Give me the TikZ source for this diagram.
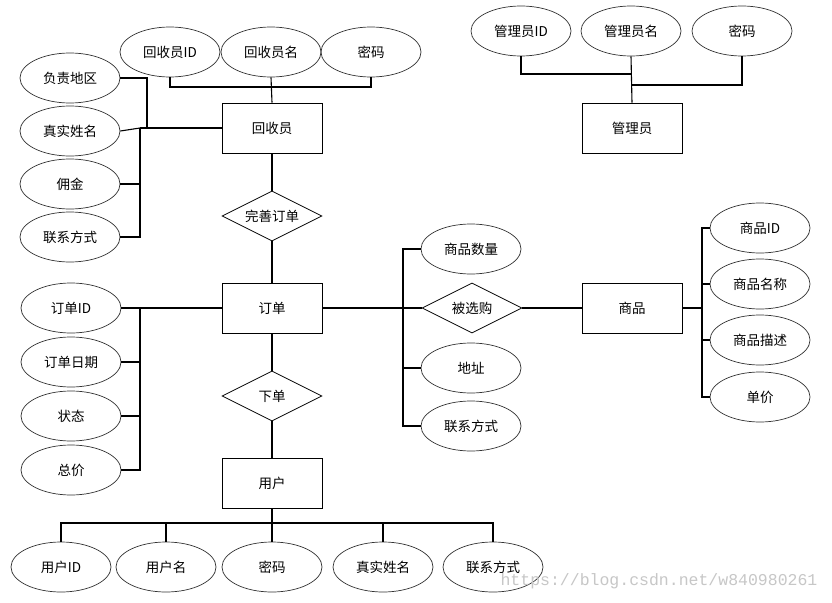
\documentclass[tikz,border=0pt]{standalone}
\usepackage{fontspec}
\newfontfamily\cjk{Noto Sans CJK SC}
\newfontfamily\wmfont{Liberation Mono}
\usetikzlibrary{shapes.geometric}
\tikzset{
  every node/.style={font=\cjk\fontsize{13.5}{16}\selectfont, inner sep=0pt},
  entity/.style={draw, line width=0.9pt, minimum width=100pt, minimum height=50pt},
  attr/.style={draw, ellipse, line width=0.7pt, draw=black!80, minimum width=100pt, minimum height=50pt},
  rel/.style={draw, diamond, line width=0.8pt, minimum width=100pt, minimum height=50pt},
  conn/.style={line width=1.1pt},
  thickconn/.style={line width=2pt},
}
\newcommand{\zw}[1]{\makebox[0pt]{#1}}
\begin{document}
\begin{tikzpicture}[x=1pt,y=-1pt]
\useasboundingbox[fill=white] (0,0) rectangle (832,602);
% entities
\node[entity] (hsy) at (272,128) {回收员};
\node[entity] (gly) at (632,128) {管理员};
\node[entity] (dd) at (272,308) {订单};
\node[entity] (sp) at (632,308) {商品};
\node[entity] (yh) at (272,483) {用户};
% relations
\node[rel] (wsdd) at (272,216) {\zw{完善订单}};
\node[rel] (xd) at (272,396) {\zw{下单}};
\node[rel] (bxg) at (472,308) {\zw{被选购}};
% attributes
\node[attr] (h1) at (170,52) {回收员ID};
\node[attr] (h2) at (271,52) {回收员名};
\node[attr] (h3) at (371,52) {密码};
\node[attr] (l1) at (70,78) {负责地区};
\node[attr] (l2) at (70,131) {真实姓名};
\node[attr] (l3) at (70,184) {佣金};
\node[attr] (l4) at (70,237) {联系方式};
\node[attr] (g1) at (521,31) {管理员ID};
\node[attr] (g2) at (631,31) {管理员名};
\node[attr] (g3) at (742,31) {密码};
\node[attr] (o1) at (71,308) {订单ID};
\node[attr] (o2) at (71,362) {订单日期};
\node[attr] (o3) at (71,416) {状态};
\node[attr] (o4) at (71,470) {总价};
\node[attr] (r1) at (471,249) {商品数量};
\node[attr] (r2) at (471,368) {地址};
\node[attr] (r3) at (471,426) {联系方式};
\node[attr] (p1) at (760,228) {商品ID};
\node[attr] (p2) at (760,284) {商品名称};
\node[attr] (p3) at (760,340) {商品描述};
\node[attr] (p4) at (760,397) {单价};
\node[attr] (u1) at (61,567) {用户ID};
\node[attr] (u2) at (166,567) {用户名};
\node[attr] (u3) at (272,567) {密码};
\node[attr] (u4) at (383,567) {真实姓名};
\node[attr] (u5) at (493,567) {联系方式};
% junction coordinates
\coordinate (hb) at (272,87);
\coordinate (lb) at (140,128);
\coordinate (lj) at (147,128);
\coordinate (gj1) at (632,74);
\coordinate (gj2) at (632,85);
\coordinate (ob) at (140,308);
\coordinate (rb) at (403,308);
\coordinate (pb) at (702,308);
\coordinate (ub) at (272,523);
% 回收员
\draw[conn] (h1.south) |- (hb) -| (h3.south);
\draw[conn] (h2.south) -- (hsy.north);
\draw[conn] (l1.east) -| (lj);
\draw[thickconn] (lb) -- (hsy.west);
\draw[conn] (l2.east) .. controls (130,129) .. (lb);
\draw[conn] (lb) |- (l4.east);
\draw[conn] (l3.east) -- (l3.east -| lb);
% vertical chain
\draw[conn] (hsy.south) -- (wsdd.north);
\draw[conn] (wsdd.south) -- (dd.north);
\draw[conn] (dd.south) -- (xd.north);
\draw[conn] (xd.south) -- (yh.north);
% 管理员
\draw[conn] (g1.south) |- (gj1);
\draw[conn] (g2.south) -- (gly.north);
\draw[conn] (g3.south) |- (gj2);
% 订单
\draw[conn] (o1.east) -- (ob);
\draw[thickconn] (ob) -- (dd.west);
\draw[conn] (ob) |- (o4.east);
\draw[conn] (o2.east) -- (o2.east -| ob);
\draw[conn] (o3.east) -- (o3.east -| ob);
% 被选购
\draw[thickconn] (dd.east) -- (rb);
\draw[conn] (rb) -- (bxg.west);
\draw[conn] (r1.west) -| (rb) |- (r3.west);
\draw[conn] (r2.west) -- (r2.west -| rb);
\draw[conn] (bxg.east) -- (sp.west);
% 商品
\draw[thickconn] (sp.east) -- (pb);
\draw[conn] (p1.west) -| (pb) |- (p4.west);
\draw[conn] (p2.west) -- (p2.west -| pb);
\draw[conn] (p3.west) -- (p3.west -| pb);
% 用户
\draw[conn] (yh.south) -- (ub);
\draw[conn] (u1.north) |- (ub) -| (u5.north);
\draw[conn] (u2.north) -- (u2.north |- ub);
\draw[conn] (u3.north) -- (ub);
\draw[conn] (u4.north) -- (u4.north |- ub);
% watermark
\node[font=\wmfont\fontsize{16.5}{18}\selectfont, text=black!22] (wm) at (659,581) {https://blog.csdn.net/w840980261};
\end{tikzpicture}
\end{document}
